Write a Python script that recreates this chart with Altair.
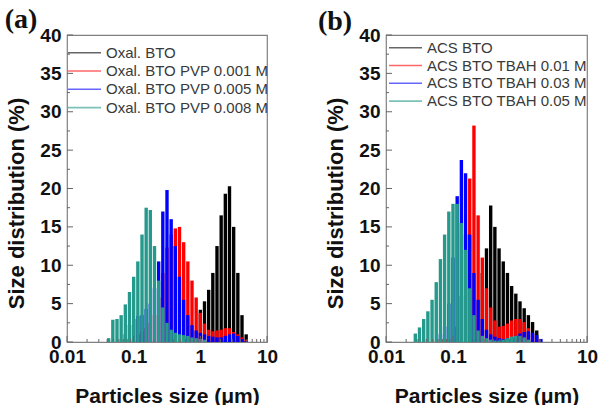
import altair as alt
import pandas as pd

# Particle-size bins (µm), 16 bins per decade
SIZES = [
    0.02054, 0.02371, 0.02738, 0.03162, 0.03652, 0.04217, 0.04870, 0.05623, 0.06494, 0.07499,
    0.08660, 0.1000, 0.1155, 0.1334, 0.1540, 0.1778, 0.2054, 0.2371, 0.2738, 0.3162,
    0.3652, 0.4217, 0.4870, 0.5623, 0.6494, 0.7499, 0.8660, 1.000, 1.155, 1.334,
    1.540, 1.778, 2.054, 2.371, 2.738, 3.162, 3.652, 4.217, 4.870, 5.623,
]

# Panel (a): oxalate-route BTO with PVP
A_NAMES = ["Oxal. BTO", "Oxal. BTO PVP 0.001 M", "Oxal. BTO PVP 0.005 M", "Oxal. BTO PVP 0.008 M"]
A_BLACK = [0, 0, 0, 0, 0, 0, 0, 0, 0, 0,
           0, 0, 0, 0, 0, 0, 0, 0, 0, 0,
           0, 0, 0, 0, 0, 0, 0, 4.2, 5.3, 6.8,
           9.0, 12.5, 16.5, 19.3, 20.3, 15.0, 9.0, 3.5, 1.0, 0]
A_RED = [0, 0, 0, 0, 0, 0, 0, 0, 0, 0,
         0, 0, 1.0, 1.4, 1.8, 2.5, 3.5, 5.8, 9.0, 12.3,
         14.0, 14.8, 15.0, 13.0, 10.5, 8.0, 5.8, 3.8, 2.4, 1.6,
         1.4, 1.5, 1.6, 1.8, 1.8, 1.3, 1.0, 0.6, 0.3, 0]
A_BLUE = [0, 0, 0, 0, 0, 0, 0, 0, 0, 1.0,
          2.2, 3.0, 3.4, 3.5, 4.3, 5.0, 7.0, 10.5, 17.0, 19.8,
          16.0, 12.5, 8.5, 5.5, 3.5, 2.2, 1.5, 1.2, 1.0, 0.8,
          0.7, 0.6, 0.6, 0.8, 1.0, 1.1, 0.8, 0.4, 0.1, 0]
A_TEAL = [0, 0, 0, 0, 0, 0.5, 2.9, 3.0, 3.5, 4.9,
          6.5, 8.5, 10.5, 14.0, 17.5, 17.2, 12.5, 8.0, 4.5, 2.5,
          1.6, 1.2, 1.0, 0.9, 0.8, 0.6, 0.5, 0.4, 0.3, 0,
          0, 0, 0, 0, 0, 0, 0, 0, 0, 0]

# Panel (b): ACS-route BTO with TBAH
B_NAMES = ["ACS BTO", "ACS BTO TBAH 0.01 M", "ACS BTO TBAH 0.03 M", "ACS BTO TBAH 0.05 M"]
B_BLACK = [0, 0, 0, 0, 0, 0, 0, 0, 0, 0,
           0, 0, 0, 0, 0, 0, 0, 0, 9.0, 12.2,
           17.8, 15.0, 12.2, 10.5, 9.0, 7.3, 6.3, 5.3, 4.4, 3.5,
           2.6, 1.5, 0, 0, 0, 0, 0, 0, 0, 0]
B_RED = [0, 0, 0, 0, 0, 0, 0, 0, 0, 0,
         0, 0, 2.0, 6.0, 14.0, 21.3, 28.2, 16.5, 11.0, 7.0,
         4.5, 2.8, 2.0, 2.1, 2.4, 2.8, 3.0, 3.0, 2.6, 1.8,
         1.0, 0.4, 0, 0, 0, 0, 0, 0, 0, 0]
B_BLUE = [0, 0, 0, 0, 0, 0, 0, 0, 1.0, 2.0,
          5.0, 11.0, 19.0, 23.7, 22.0, 14.0, 9.0, 5.5, 3.0, 1.6,
          1.0, 0.7, 0.5, 0.4, 0.5, 0.6, 0.8, 1.1, 1.3, 1.4,
          1.2, 0.9, 0.4, 0, 0, 0, 0, 0, 0, 0]
B_TEAL = [0, 0, 1.1, 1.9, 3.0, 4.0, 5.5, 7.8, 10.8, 14.0,
          17.0, 18.0, 18.0, 15.5, 12.0, 7.0, 3.5, 1.5, 0.8, 0.5,
          0.3, 0.2, 0.2, 0.3, 0.5, 0.7, 0.8, 0.8, 0.6, 0.3,
          0, 0, 0, 0, 0, 0, 0, 0, 0, 0]

PANEL_TAGS = ["(a)", "(b)"]
X_TITLE = "Particles size (\u03bcm)"
Y_TITLE = "Size distribution (%)"

X_MAJOR = [0.01, 0.1, 1, 10]
X_MINOR = [0.02, 0.03, 0.04, 0.05, 0.06, 0.07, 0.08, 0.09,
           0.2, 0.3, 0.4, 0.5, 0.6, 0.7, 0.8, 0.9,
           2, 3, 4, 5, 6, 7, 8, 9]
Y_MAJOR = [0, 5, 10, 15, 20, 25, 30, 35, 40]
Y_MINOR = [2.5, 7.5, 12.5, 17.5, 22.5, 27.5, 32.5, 37.5]

COLORS = ["#000000", "#ff0000", "#0000ff", "#25998b"]
SANS = "Liberation Sans"
TICK_COLOR = "#666666"
H = 307

X_AXIS = alt.Axis(values=X_MAJOR, format="~g", labelFlush=False, labelOverlap=False,
                  ticks=False, domain=False, grid=False,
                  labelFont=SANS, labelFontSize=19, labelFontWeight="bold",
                  labelColor="#111111", labelPadding=5,
                  titleFont=SANS, titleFontSize=21, titleFontWeight="bold",
                  titleColor="#111111", titlePadding=19)
Y_AXIS = alt.Axis(values=Y_MAJOR, format="d", ticks=False,
                  domain=False, grid=False, labelOverlap=False,
                  labelFont=SANS, labelFontSize=19, labelFontWeight="bold",
                  labelColor="#111111", labelPadding=6,
                  titleFont=SANS, titleFontSize=22, titleFontWeight="bold",
                  titleColor="#111111", titlePadding=11, titleY=168)


def panel(names, series, tag, width, tag_xy, leg_x, leg_top, leg_step):
    rows = []
    for name, vals in zip(names, series):
        for s, v in zip(SIZES, vals):
            if v > 0:
                rows.append({"series": name, "size": s, "pct": v})
    df = pd.DataFrame(rows)

    xs = alt.Scale(type="log", domain=[0.01, 10], nice=False)
    ys = alt.Scale(domain=[0, 40], nice=False)
    color = alt.Color("series:N", scale=alt.Scale(domain=names, range=COLORS), legend=None)

    def X(field):
        return alt.X(field, scale=xs, title=X_TITLE, axis=X_AXIS)

    def Y(field):
        return alt.Y(field, scale=ys, title=Y_TITLE, axis=Y_AXIS)

    bars = alt.Chart(df).transform_calculate(
        lo="datum.size / 1.06", hi="datum.size * 1.06", zero="0"
    ).mark_rect().encode(
        x=X("lo:Q"), x2="hi:Q", y=Y("pct:Q"), y2="zero:Q", color=color,
    )

    def xticks(vals, length):
        return alt.Chart(pd.DataFrame({"v": vals})).mark_rule(
            color=TICK_COLOR, strokeWidth=1
        ).encode(x=X("v:Q"), y=alt.value(H), y2=alt.value(H - length))

    def yticks(vals, length):
        return alt.Chart(pd.DataFrame({"v": vals})).mark_rule(
            color=TICK_COLOR, strokeWidth=1
        ).encode(y=Y("v:Q"), x=alt.value(0), x2=alt.value(length))

    leg_df = pd.DataFrame({"series": names, "row": list(range(len(names)))})
    leg_base = alt.Chart(leg_df).transform_calculate(ly=f"{leg_top} + datum.row * {leg_step}")
    leg_lines = leg_base.mark_rule(strokeWidth=1.6, opacity=0.6).encode(
        x=alt.value(leg_x), x2=alt.value(leg_x + 33),
        y=alt.Y("ly:Q", scale=None), color=color)
    leg_text = leg_base.mark_text(
        align="left", baseline="middle", font=SANS, fontSize=15, color="#3a3a3a"
    ).encode(x=alt.value(leg_x + 38), y=alt.Y("ly:Q", scale=None), text="series:N")

    tag_mark = alt.Chart(pd.DataFrame({"tag": [tag]})).mark_text(
        font="Liberation Serif", fontWeight="bold", fontSize=28, align="center", baseline="middle",
        color="#111111"
    ).encode(x=alt.value(tag_xy[0]), y=alt.value(tag_xy[1]), text="tag:N")

    return alt.layer(
        bars, xticks(X_MAJOR, 6), xticks(X_MINOR, 3), yticks(Y_MAJOR, 6), yticks(Y_MINOR, 3),
        leg_lines, leg_text, tag_mark,
    ).properties(width=width, height=H)


pa = panel(A_NAMES, [A_BLACK, A_RED, A_BLUE, A_TEAL], PANEL_TAGS[0], 200, (-46, -15), 1, 17.7, 18.3)
pb = panel(B_NAMES, [B_BLACK, B_RED, B_BLUE, B_TEAL], PANEL_TAGS[1], 201, (-51, -13), 3, 12.7, 17.8)

chart = alt.hconcat(pa, pb, spacing=119, bounds="flush").resolve_scale(
    color="independent"
).configure_view(stroke="#808080", strokeWidth=1.2).properties(
    padding={"left": 4, "top": 5, "right": 0, "bottom": 0}
)

chart.save("out.html", embed_options={"renderer": "svg", "actions": False})
